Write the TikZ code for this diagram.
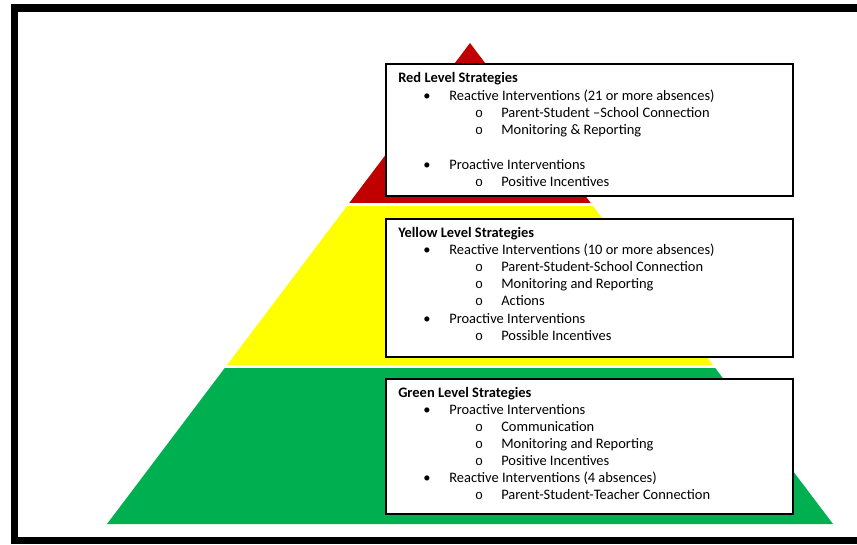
\documentclass[tikz,border=0pt]{standalone}
\usepackage{fontspec}
\setmainfont{Carlito}
\newfontfamily\monofnt{Liberation Mono}
\usetikzlibrary{calc}
\definecolor{pyrred}{HTML}{C00000}
\definecolor{pyryellow}{HTML}{FFFF00}
\definecolor{pyrgreen}{HTML}{00B050}
\begin{document}
\begin{tikzpicture}[x=0.75pt,y=-0.75pt,
  txt/.style={anchor=base west, inner sep=0pt, font=\fontsize{10.85}{12}\selectfont},
  ttl/.style={txt, font=\fontsize{10.85}{12}\selectfont\bfseries},
  bul/.style={anchor=base, inner sep=0pt, font=\fontsize{10.85}{12}\selectfont},
  sub/.style={anchor=base, inner sep=0pt, font=\fontsize{10}{12}\monofnt},
  strat/.style={draw=black, line width=1.5pt, fill=white, inner sep=0pt,
    minimum width=305.25pt},
  frame/.style={draw=black, line width=5.4pt}]
\useasboundingbox (0,0) rectangle (857,544);
% frame
\draw[frame] (857,8) -- (14.5,8) -- (14.5,540.3) -- (857,540.3);
% pyramid
\coordinate (apex) at (470,43);
\coordinate (bl) at (107,524);
\coordinate (br) at (833,524);
\fill[pyrred] (apex) -- ($(apex)!0.3326!(br)$) -- ($(apex)!0.3326!(bl)$) -- cycle;
\fill[pyryellow] ($(apex)!0.3389!(bl)$) -- ($(apex)!0.3389!(br)$) -- ($(apex)!0.6694!(br)$) -- ($(apex)!0.6694!(bl)$) -- cycle;
\fill[pyrgreen] ($(apex)!0.6757!(bl)$) -- ($(apex)!0.6757!(br)$) -- (br) -- (bl) -- cycle;
% boxes
\node[strat, minimum height=99pt] (redbox) at (589.5,130) {};
\node[strat, minimum height=103.5pt] (yelbox) at (589.5,288) {};
\node[strat, minimum height=101.25pt] (grnbox) at (589.5,446) {};
% red text
\node[ttl] (r0) at (398,82.5) {Red Level Strategies};
\node[bul] (r1b) at (427,100.5) {•};
\node[txt] (r1) at (449,100.5) {Reactive Interventions (21 or more absences)};
\node[sub] (r2b) at (479,117.5) {o};
\node[txt] (r2) at (501,117.5) {Parent-Student –School Connection};
\node[sub] (r3b) at (479,134.5) {o};
\node[txt] (r3) at (501,134.5) {Monitoring \& Reporting};
\node[bul] (r4b) at (427,169.5) {•};
\node[txt] (r4) at (449,169.5) {Proactive Interventions};
\node[sub] (r5b) at (479,186.5) {o};
\node[txt] (r5) at (501,186.5) {Positive Incentives};
% yellow text
\node[ttl] (y0) at (398,237.5) {Yellow Level Strategies};
\node[bul] (y1b) at (427,254.5) {•};
\node[txt] (y1) at (449,254.5) {Reactive Interventions (10 or more absences)};
\node[sub] (y2b) at (479,271.5) {o};
\node[txt] (y2) at (501,271.5) {Parent-Student-School Connection};
\node[sub] (y3b) at (479,288.5) {o};
\node[txt] (y3) at (501,288.5) {Monitoring and Reporting};
\node[sub] (y4b) at (479,305.5) {o};
\node[txt] (y4) at (501,305.5) {Actions};
\node[bul] (y5b) at (427,323.5) {•};
\node[txt] (y5) at (449,323.5) {Proactive Interventions};
\node[sub] (y6b) at (479,340.5) {o};
\node[txt] (y6) at (501,340.5) {Possible Incentives};
% green text
\node[ttl] (g0) at (398,397) {Green Level Strategies};
\node[bul] (g1b) at (427,414.5) {•};
\node[txt] (g1) at (449,414.5) {Proactive Interventions};
\node[sub] (g2b) at (479,431.5) {o};
\node[txt] (g2) at (501,431.5) {Communication};
\node[sub] (g3b) at (479,448.5) {o};
\node[txt] (g3) at (501,448.5) {Monitoring and Reporting};
\node[sub] (g4b) at (479,465.5) {o};
\node[txt] (g4) at (501,465.5) {Positive Incentives};
\node[bul] (g5b) at (427,482.5) {•};
\node[txt] (g5) at (449,482.5) {Reactive Interventions (4 absences)};
\node[sub] (g6b) at (479,499.5) {o};
\node[txt] (g6) at (501,499.5) {Parent-Student-Teacher Connection};
\end{tikzpicture}
\end{document}
